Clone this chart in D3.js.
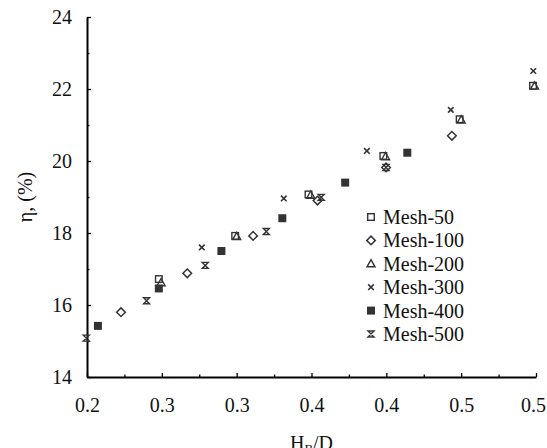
<!DOCTYPE html>
<html lang="en">
<head>
<meta charset="utf-8">
<title>Efficiency vs HB/D</title>
<script src="https://cdn.jsdelivr.net/npm/d3@7"></script>
<style>
  body { margin: 0; background: #fff; }
  text { font-family: "Liberation Serif", "Times New Roman", Times, serif; fill: #111; }
</style>
</head>
<body>
<script>
// series data
var mesh50X = [0.248, 0.299, 0.348, 0.398, 0.449, 0.498];
var mesh50Y = [16.72, 17.92, 19.07, 20.14, 21.16, 22.09];
var mesh100X = [0.2227, 0.267, 0.311, 0.354, 0.3998, 0.4438];
var mesh100Y = [15.80, 16.88, 17.92, 18.90, 19.82, 20.70];
var mesh200X = [0.2495, 0.300, 0.3495, 0.3995, 0.4500, 0.4990];
var mesh200Y = [16.62, 17.90, 19.05, 20.12, 21.14, 22.08];
var mesh300X = [0.2767, 0.3315, 0.387, 0.4431, 0.4982];
var mesh300Y = [17.60, 18.96, 20.28, 21.42, 22.50];
var mesh400X = [0.2073, 0.248, 0.2898, 0.3305, 0.3725, 0.414];
var mesh400Y = [15.42, 16.46, 17.50, 18.41, 19.40, 20.23];
var mesh500X = [0.1995, 0.2398, 0.279, 0.3198, 0.3565, 0.3998];
var mesh500Y = [15.08, 16.12, 17.10, 18.04, 18.99, 19.82];

var seriesNames = ["Mesh-50", "Mesh-100", "Mesh-200", "Mesh-300", "Mesh-400", "Mesh-500"];
var xTickValues = [0.2, 0.25, 0.3, 0.35, 0.4, 0.45, 0.5];
var xTickLabels = ["0.2", "0.3", "0.3", "0.4", "0.4", "0.5", "0.5"];
var yTickValues = [14, 16, 18, 20, 22, 24];

var w = 547, h = 448;
var ink = "#333";
var serif = "'Liberation Serif', 'Times New Roman', Times, serif";

var x = d3.scaleLinear().domain([0.2, 0.5]).range([87, 536]);
var y = d3.scaleLinear().domain([14, 24]).range([377, 17]);

var svg = d3.select("body").append("svg")
  .attr("width", w).attr("height", h);

function zip(xs, ys) { return xs.map(function(v, i) { return [v, ys[i]]; }); }

var series = [
  { name: seriesNames[0], pts: zip(mesh50X, mesh50Y), kind: "square" },
  { name: seriesNames[1], pts: zip(mesh100X, mesh100Y), kind: "diamond" },
  { name: seriesNames[2], pts: zip(mesh200X, mesh200Y), kind: "triangle" },
  { name: seriesNames[3], pts: zip(mesh300X, mesh300Y), kind: "cross" },
  { name: seriesNames[4], pts: zip(mesh400X, mesh400Y), kind: "filled" },
  { name: seriesNames[5], pts: zip(mesh500X, mesh500Y), kind: "hourglass" }
];

// draw a marker of a given kind at (cx, cy)
function marker(g, kind, cx, cy) {
  if (kind == "square") {
    g.append("rect").attr("x", cx - 3.3).attr("y", cy - 3.3).attr("width", 6.6).attr("height", 6.6)
      .attr("fill", "#fff").attr("stroke", ink).attr("stroke-width", 1.4);
  } else if (kind == "diamond") {
    g.append("path").attr("d", "M" + cx + "," + (cy - 4.3) + "L" + (cx + 4.3) + "," + cy +
        "L" + cx + "," + (cy + 4.3) + "L" + (cx - 4.3) + "," + cy + "Z")
      .attr("fill", "#fff").attr("stroke", ink).attr("stroke-width", 1.5);
  } else if (kind == "triangle") {
    g.append("path").attr("d", "M" + cx + "," + (cy - 4.2) + "L" + (cx + 4) + "," + (cy + 3) +
        "L" + (cx - 4) + "," + (cy + 3) + "Z")
      .attr("fill", "none").attr("stroke", ink).attr("stroke-width", 1.4);
  } else if (kind == "cross") {
    g.append("path").attr("d", "M" + (cx - 2.8) + "," + (cy - 2.8) + "L" + (cx + 2.8) + "," + (cy + 2.8) +
        "M" + (cx + 2.8) + "," + (cy - 2.8) + "L" + (cx - 2.8) + "," + (cy + 2.8))
      .attr("stroke", ink).attr("stroke-width", 1.6);
  } else if (kind == "filled") {
    g.append("rect").attr("x", cx - 4).attr("y", cy - 4).attr("width", 8).attr("height", 8)
      .attr("fill", ink);
  } else if (kind == "hourglass") {
    g.append("path").attr("d", "M" + (cx - 3) + "," + (cy - 3) + "L" + (cx + 3) + "," + (cy - 3) +
        "L" + (cx - 3) + "," + (cy + 3) + "L" + (cx + 3) + "," + (cy + 3) + "Z")
      .attr("fill", "none").attr("stroke", ink).attr("stroke-width", 1.4);
  }
}

// axes: major ticks with labels, minor ticks without, all pointing inward
var xAxis = d3.axisBottom(x).tickValues(xTickValues)
  .tickFormat(function(d, i) { return xTickLabels[i]; })
  .tickSize(-4).tickSizeOuter(0).tickPadding(21);
var gx = svg.append("g").attr("transform", "translate(0," + y(14) + ")").call(xAxis);
// last label sits against the right edge, pull it in a little
gx.selectAll(".tick text").filter(function(d, i) { return i == xTickValues.length - 1; })
  .attr("dx", -3);

var xMinor = d3.axisBottom(x).tickValues(d3.range(0.225, 0.5, 0.05))
  .tickFormat("").tickSize(-2.5).tickSizeOuter(0);
svg.append("g").attr("transform", "translate(0," + y(14) + ")").call(xMinor)
  .select(".domain").remove();

var yAxis = d3.axisLeft(y).tickValues(yTickValues)
  .tickSize(-4).tickSizeOuter(0).tickPadding(15);
svg.append("g").attr("transform", "translate(" + x(0.2) + ",0)").call(yAxis);

var yMinor = d3.axisLeft(y).tickValues([15, 17, 19, 21, 23])
  .tickFormat("").tickSize(-2.5).tickSizeOuter(0);
svg.append("g").attr("transform", "translate(" + x(0.2) + ",0)").call(yMinor)
  .select(".domain").remove();

svg.selectAll(".domain").attr("stroke", "#000").attr("stroke-width", 2);
svg.selectAll(".tick line").attr("stroke", "#000").attr("stroke-width", 1.3);
svg.selectAll(".tick text").attr("font-size", 20)
  .style("font-family", serif).attr("fill", "#111");

// points
series.forEach(function(s) {
  var g = svg.append("g");
  s.pts.forEach(function(p) { marker(g, s.kind, x(p[0]), y(p[1])); });
});

// legend
var legend = svg.append("g");
series.forEach(function(s, i) {
  var ly = 217 + i * 23.4;
  marker(legend, s.kind, 371, ly);
  legend.append("text").attr("x", 383).attr("y", ly).attr("dy", "0.35em")
    .attr("font-size", 20).style("font-family", serif).text(s.name);
});

// axis titles
svg.append("text")
  .attr("transform", "translate(32," + ((y(14) + y(24)) / 2) + ") rotate(-90)")
  .attr("text-anchor", "middle").attr("font-size", 20).style("font-family", serif)
  .text("η, (%)");

var xt = svg.append("text").attr("x", (x(0.2) + x(0.5)) / 2).attr("y", 450)
  .attr("text-anchor", "middle").attr("font-size", 20).style("font-family", serif);
xt.append("tspan").text("H");
xt.append("tspan").attr("font-size", 13).attr("dy", 3).text("B");
xt.append("tspan").attr("dy", -3).text("/D");
</script>
</body>
</html>
